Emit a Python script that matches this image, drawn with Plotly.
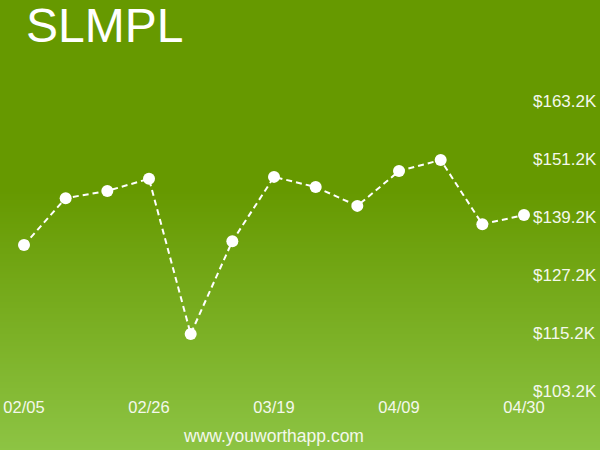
import plotly.graph_objects as go

title = "SLMPL"
dates = ["02/05", "02/12", "02/19", "02/26", "03/05", "03/12", "03/19",
         "03/26", "04/02", "04/09", "04/16", "04/23", "04/30"]
values = [133400, 143100, 144600, 147100, 115000, 134200, 147500,
          145400, 141500, 148700, 151000, 137700, 139600]
x_tick_labels = ["02/05", "02/26", "03/19", "04/09", "04/30"]
y_ticks = [103200, 115200, 127200, 139200, 151200, 163200]
y_tick_labels = ["$%.1fK" % (v / 1000) for v in y_ticks]
watermark = "www.youworthapp.com"

W, H = 600, 450
L, R, T, B = 24, 76, 101, 59
pw, ph = W - L - R, H - T - B

def px_to_paper_y(py):
    return (H - B - py) / ph

def px_to_paper_x(px):
    return (px - L) / pw

# gradient background strips
shapes = []
top_col = (102, 153, 0)
bot_col = (141, 196, 68)
start = 190
step = 2
for py in range(0, H, step):
    if py < start:
        continue
    t = (py - start) / (H - start)
    c = tuple(round(top_col[i] + (bot_col[i] - top_col[i]) * t) for i in range(3))
    shapes.append(dict(type="rect", xref="paper", yref="paper", layer="below",
                       x0=px_to_paper_x(-20), x1=px_to_paper_x(W + 20),
                       y0=px_to_paper_y(py + step + 0.5), y1=px_to_paper_y(py),
                       fillcolor="rgb(%d,%d,%d)" % c, line=dict(width=0)))

fig = go.Figure()
fig.add_trace(go.Scatter(
    x=dates, y=values, mode="lines+markers",
    line=dict(color="white", width=2, dash="6px,4px"),
    marker=dict(color="white", size=12),
    hoverinfo="skip", cliponaxis=False,
))

fig.update_layout(
    width=W, height=H,
    margin=dict(l=L, r=R, t=T, b=B, autoexpand=False),
    paper_bgcolor="rgb(102,153,0)",
    plot_bgcolor="rgba(0,0,0,0)",
    showlegend=False,
    shapes=shapes,
    font=dict(family="Liberation Sans, Arial, sans-serif", color="#f4f8ec", size=16),
    xaxis=dict(type="category", range=[0, 12], showgrid=False, zeroline=False,
               showline=False, ticks="", tickmode="array", tickvals=x_tick_labels,
               ticktext=x_tick_labels, tickfont=dict(size=16.5), ticklabelstandoff=4,
               fixedrange=True, automargin=False),
    yaxis=dict(range=[103200, 163200], side="right", showgrid=False, zeroline=False,
               showline=False, ticks="", tickmode="array", tickvals=y_ticks,
               ticktext=y_tick_labels, tickfont=dict(size=17), ticklabelstandoff=8,
               fixedrange=True, automargin=False),
    annotations=[
        dict(text=title, xref="paper", yref="paper", x=px_to_paper_x(24),
             y=px_to_paper_y(-3), xanchor="left", yanchor="top", showarrow=False,
             font=dict(size=48, color="white")),
        dict(text=watermark, xref="paper", yref="paper", x=px_to_paper_x(273),
             y=px_to_paper_y(436), xanchor="center", yanchor="middle", showarrow=False,
             font=dict(size=17.5, color="#f4f8ec")),
    ],
)

fig.write_html("out.html", config={"responsive": False, "displayModeBar": False},
               post_script="document.body.style.margin='0';document.body.style.overflow='hidden';")
